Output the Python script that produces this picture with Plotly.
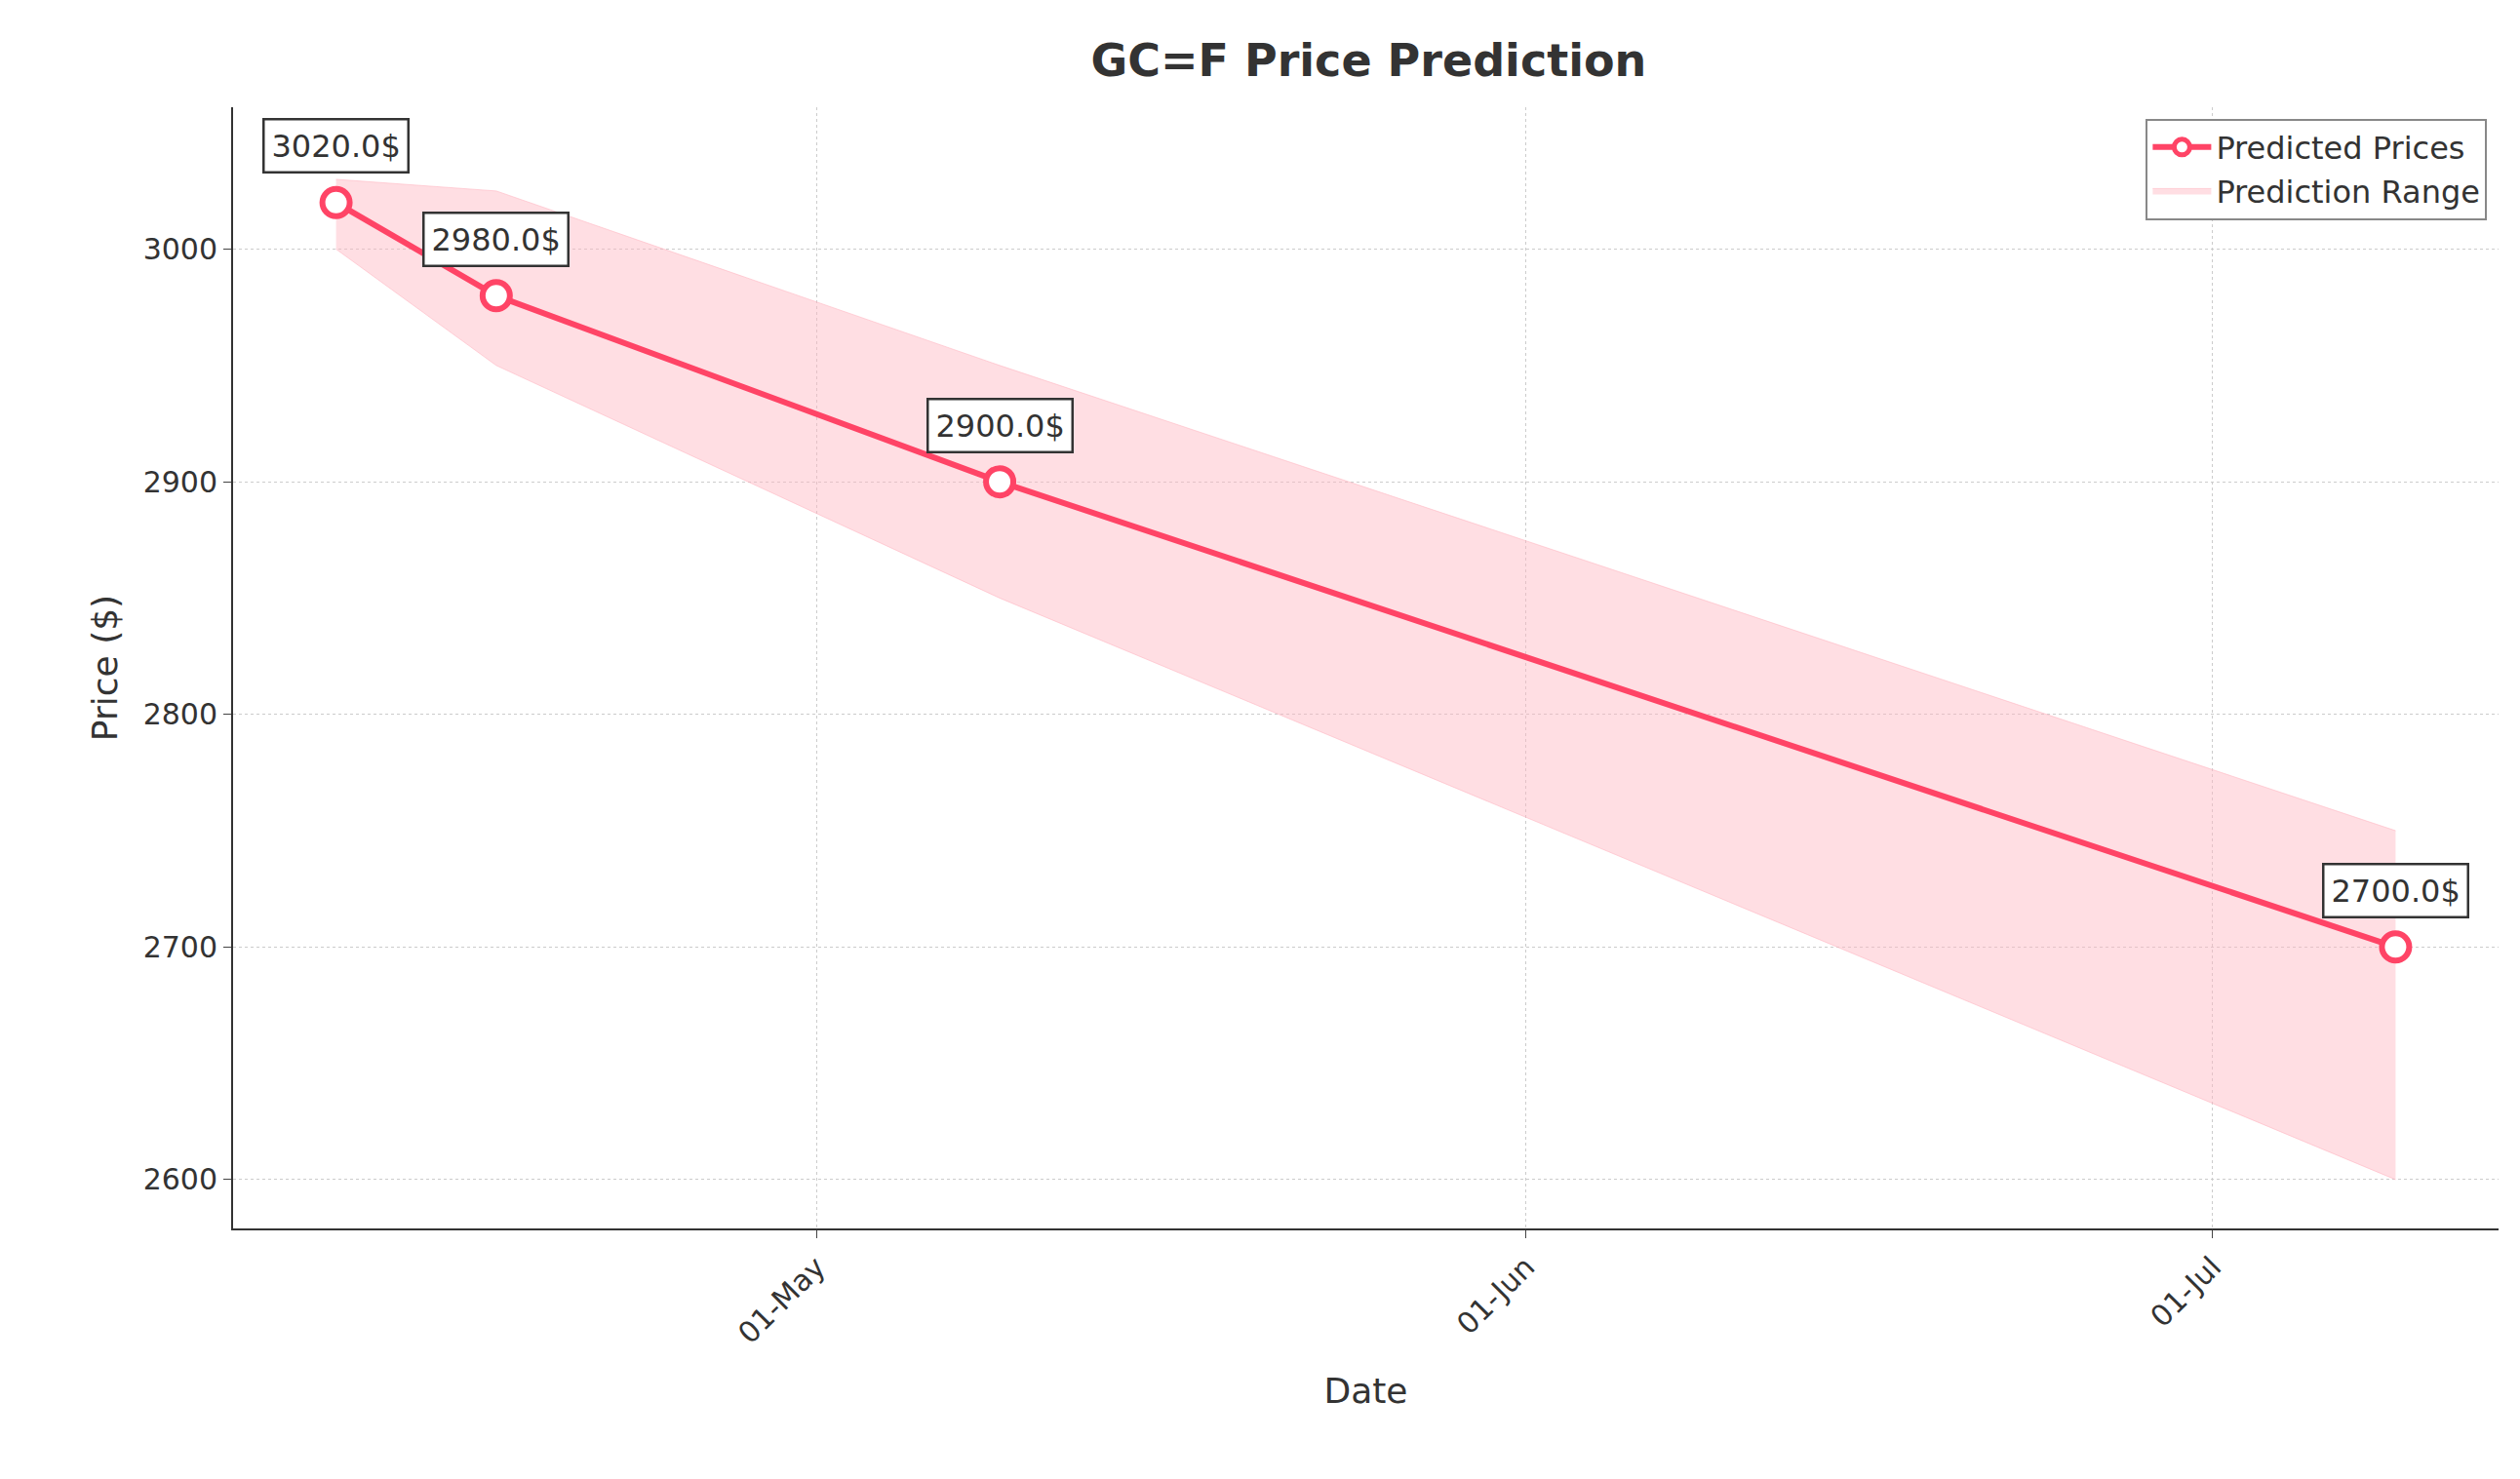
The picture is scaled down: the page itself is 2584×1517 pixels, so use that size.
import plotly.graph_objects as go

dates = ["2025-04-10", "2025-04-17", "2025-05-09", "2025-07-09"]
predicted = [3020.0, 2980.0, 2900.0, 2700.0]
upper = [3030.0, 3025.0, 2950.0, 2750.0]
lower = [3000.0, 2950.0, 2850.0, 2600.0]

red = "#ff4466"
fig = go.Figure()

fig.add_trace(go.Scatter(x=dates, y=upper, mode="lines", line=dict(width=1, color="rgba(255,182,193,0.6)"),
                         showlegend=False, hoverinfo="skip"))
fig.add_trace(go.Scatter(x=dates, y=lower, mode="lines", line=dict(width=1, color="rgba(255,182,193,0.6)"),
                         fill="tonexty", fillcolor="rgba(255,182,193,0.45)", name="Prediction Range"))
fig.add_trace(go.Scatter(x=dates, y=predicted, mode="lines+markers", name="Predicted Prices",
                         line=dict(color=red, width=6),
                         marker=dict(size=28, color="white", line=dict(color=red, width=6))))

for d, p in zip(dates, predicted):
    fig.add_annotation(x=d, y=p, text=f"{p:.1f}$", showarrow=False, yshift=58,
                       font=dict(size=32, color="#333333"), bgcolor="white",
                       bordercolor="#333333", borderwidth=2.5, borderpad=7)

fig.update_layout(
    width=2584, height=1517, paper_bgcolor="white", plot_bgcolor="white",
    font=dict(family="DejaVu Sans", size=30, color="#333333"),
    title=dict(text="<b>GC=F Price Prediction</b>", x=0.54, xanchor="center", y=0.975, font=dict(size=46)),
    margin=dict(l=231, r=30, t=102, b=265),
    legend=dict(x=0.995, y=0.99, xanchor="right", yanchor="top", bordercolor="#888888", borderwidth=2,
                font=dict(size=32), traceorder="reversed", itemwidth=60),
    xaxis=dict(title=dict(text="Date", font=dict(size=36), standoff=30), range=["2025-04-05 12:00", "2025-07-13 12:00"],
               tickvals=["2025-05-01", "2025-06-01", "2025-07-01"], ticktext=["01-May", "01-Jun", "01-Jul"],
               tickangle=-45, showgrid=True, gridcolor="#cccccc", griddash="dot", showline=True,
               linecolor="#333333", linewidth=2, ticks="outside", ticklen=8, zeroline=False),
    yaxis=dict(title=dict(text="Price ($)", font=dict(size=36)), range=[2579, 3061], dtick=100,
               showgrid=True, gridcolor="#cccccc", griddash="dot", showline=True,
               linecolor="#333333", linewidth=2, ticks="outside", ticklen=8, zeroline=False),
)

fig.write_html("out.html")
